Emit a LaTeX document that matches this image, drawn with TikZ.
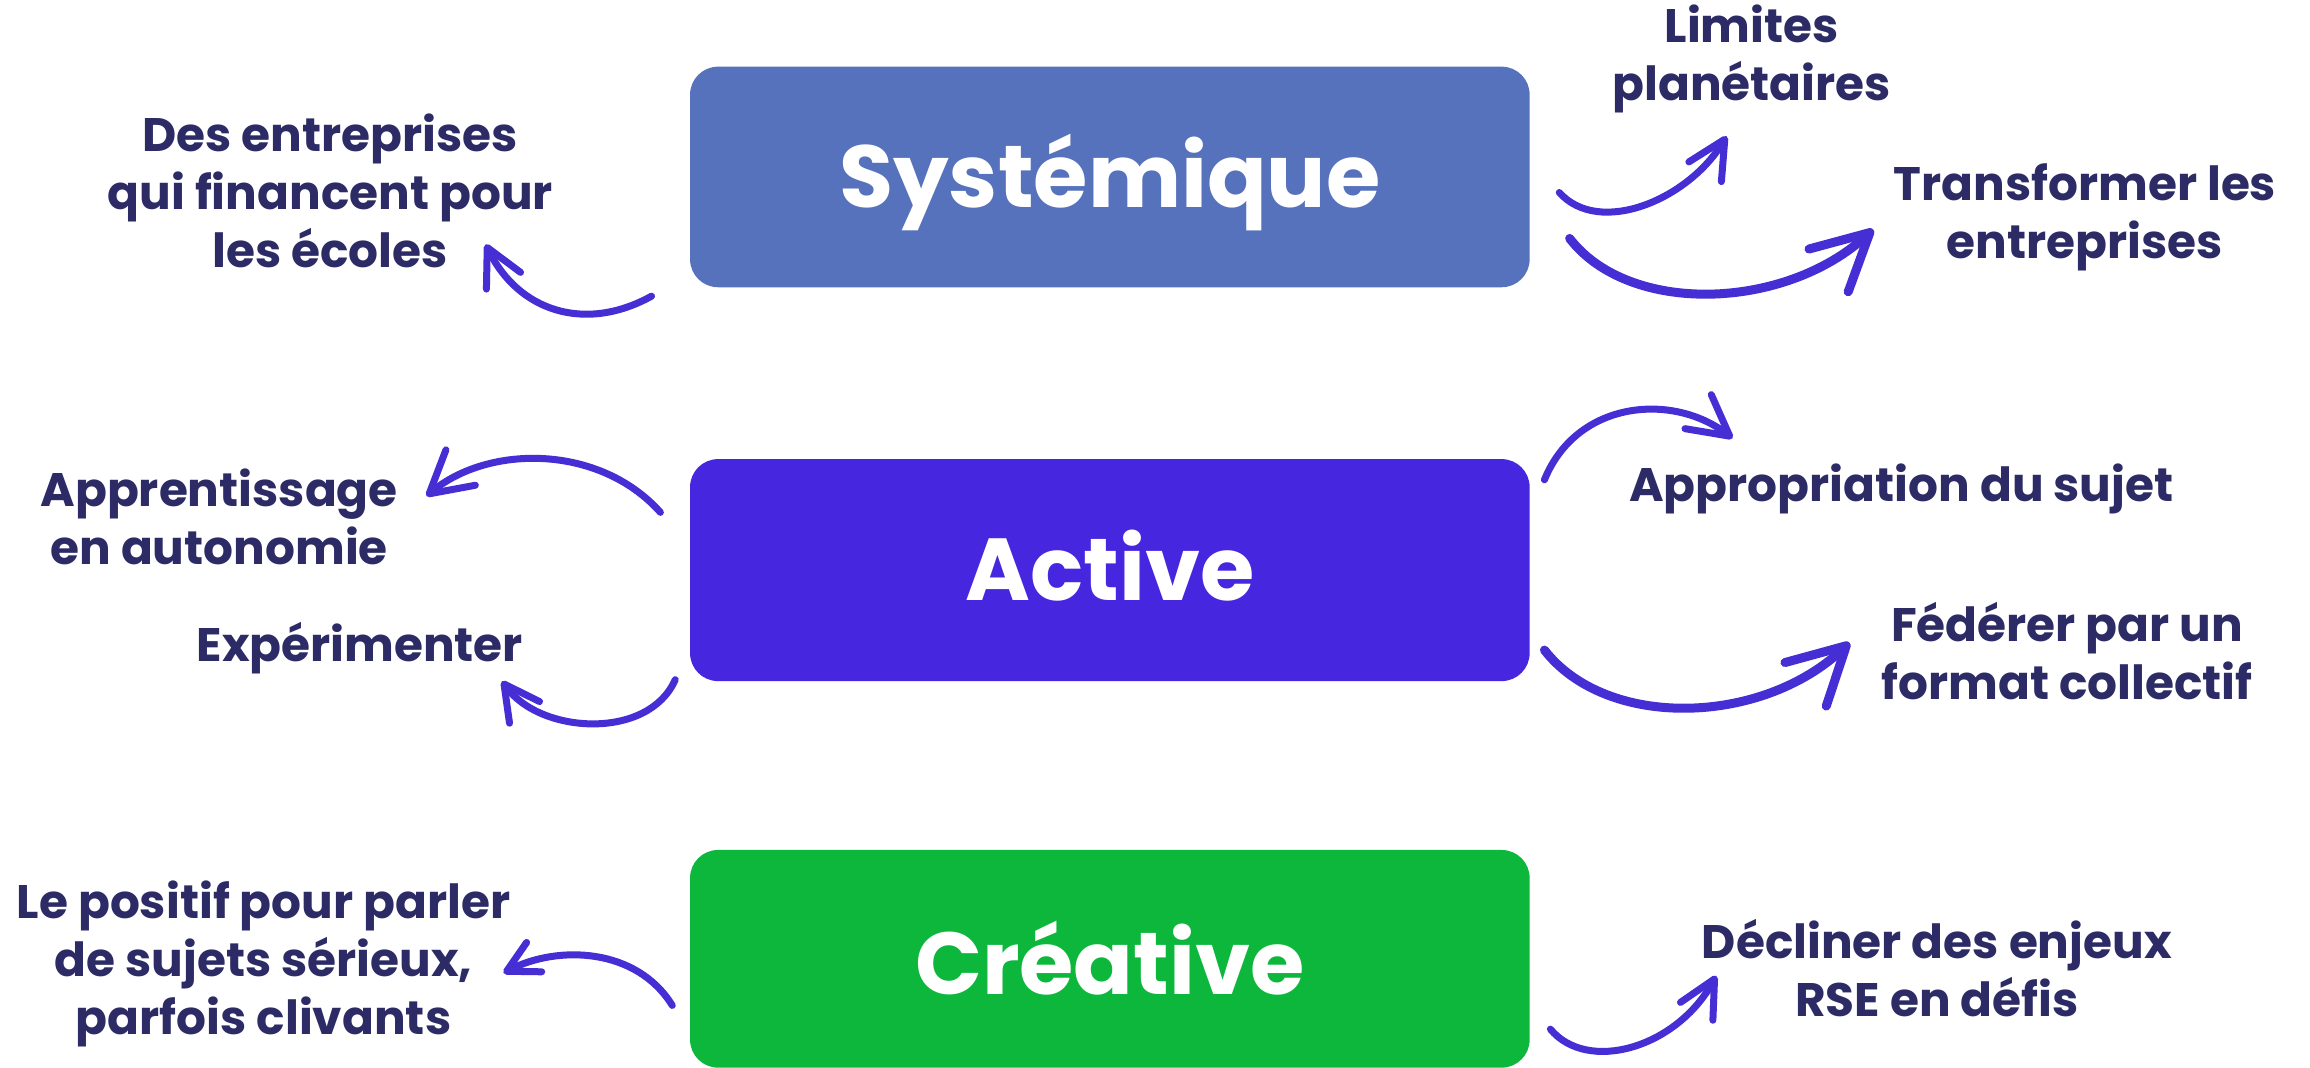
\documentclass[tikz,border=0pt]{standalone}
\usepackage{fontspec}
\setmainfont{Poppins}
\usetikzlibrary{arrows.meta}
\definecolor{sysblue}{HTML}{5772BD}
\definecolor{actviolet}{HTML}{4726E0}
\definecolor{cregreen}{HTML}{0CB73C}
\definecolor{labelnavy}{HTML}{2C2B66}
\definecolor{arrowblue}{HTML}{452ED4}
\begin{document}
\begin{tikzpicture}[x=1.4808pt,y=-1.4808pt,
  mainbox/.style={rounded corners=28pt, minimum width=839.6pt, inner sep=0pt,
    text=white, font=\fontsize{88}{100}\selectfont\bfseries, text depth=0pt},
  lbl/.style={text=labelnavy, font=\fontsize{47}{58}\selectfont\bfseries, align=center, inner sep=0pt},
  curvy/.style={draw=arrowblue, line width=7pt, line cap=round},
  bigcurvy/.style={curvy, line width=9pt}
]
\useasboundingbox (0,0) rectangle (1560,721.2);
\fill[white] (0,0) rectangle (1560,721.2);

% main boxes
\node[mainbox, fill=sysblue, minimum height=220.6pt, text height=61pt] (sys) at (749.5,119.5) {Systémique};
\node[mainbox, fill=actviolet, minimum height=222pt, text height=61pt] (act) at (749.5,385) {Active};
\node[mainbox, fill=cregreen, minimum height=217.7pt, text height=71pt] (cre) at (749.5,647.5) {Créative};

% labels
\node[lbl] (des) at (223,129) {Des entreprises\\qui financent pour\\les écoles};
\node[lbl] (lim) at (1183,40) {Limites\\planétaires};
\node[lbl] (tra) at (1408,147) {Transformer les\\entreprises};
\node[lbl] (app) at (148,349) {Apprentissage\\en autonomie};
\node[lbl] (exp) at (243,438) {Expérimenter};
\node[lbl] (apr) at (1284,330) {Appropriation du sujet};
\node[lbl] (fed) at (1396,440) {Fédérer par un\\format collectif};
\node[lbl] (pos) at (178,651) {Le positif pour parler\\de sujets sérieux,\\parfois clivants};
\node[lbl] (dec) at (1308,654) {Décliner des enjeux\\RSE en défis};

% arrow end points
\coordinate (s1) at (440,200); \coordinate (t1) at (328,165);
\coordinate (s2) at (1053,130); \coordinate (t2) at (1166,92);
\coordinate (s3) at (1060,161); \coordinate (t3) at (1265,155);
\coordinate (s4) at (446,346); \coordinate (t4) at (288,335);
\coordinate (s5) at (456,459); \coordinate (t5) at (339,460);
\coordinate (s6) at (1043,324); \coordinate (t6) at (1170,296);
\coordinate (s7) at (1043,439); \coordinate (t7) at (1249,434);
\coordinate (s8) at (454,679); \coordinate (t8) at (340,657);
\coordinate (s9) at (1047,695); \coordinate (t9) at (1159,659);

% arrows
\draw[curvy, -{Straight Barb[length=37pt,width=38pt,round]}] (s1) .. controls (395,225) and (350,210) .. (t1);
\draw[curvy, -{Straight Barb[length=38pt,width=38pt,round]}] (s2) .. controls (1080,160) and (1140,135) .. (t2);
\draw[bigcurvy, -{Straight Barb[length=56pt,width=58pt,round]}] (s3) .. controls (1100,213) and (1205,210) .. (t3);
\draw[curvy, -{Straight Barb[length=41pt,width=46pt,round]}] (s4) .. controls (405,300) and (330,300) .. (t4);
\draw[curvy, -{Straight Barb[length=35pt,width=37pt,round]}] (s5) .. controls (438,500) and (365,496) .. (t5);
\draw[curvy, -{Straight Barb[length=40pt,width=43pt,round]}] (s6) .. controls (1065,270) and (1130,265) .. (t6);
\draw[bigcurvy, -{Straight Barb[length=56pt,width=60pt,round]}] (s7) .. controls (1085,493) and (1190,490) .. (t7);
\draw[curvy, -{Straight Barb[length=31pt,width=33pt,round]}] (s8) .. controls (430,640) and (377,638) .. (t8);
\draw[curvy, -{Straight Barb[length=37pt,width=37pt,round]}] (s9) .. controls (1072,725) and (1132,708) .. (t9);
\end{tikzpicture}
\end{document}
